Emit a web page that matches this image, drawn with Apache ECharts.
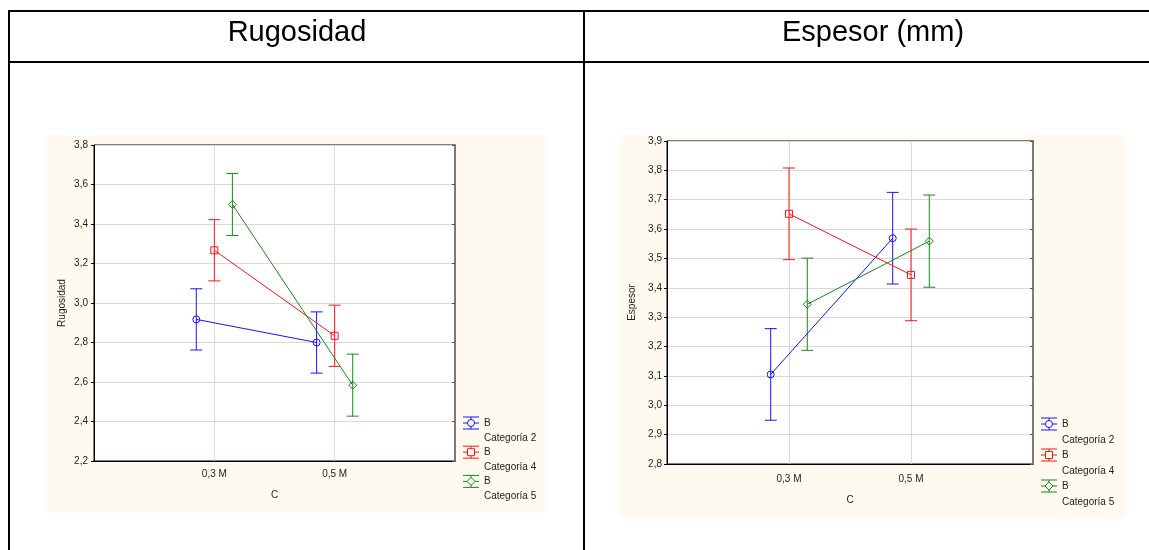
<!DOCTYPE html>
<html>
<head>
<meta charset="utf-8">
<title>Rugosidad y Espesor</title>
<script src="https://cdn.jsdelivr.net/npm/echarts@6/dist/echarts.min.js"></script>
<style>
  html, body { margin: 0; padding: 0; background: #ffffff; }
  #chart { width: 1149px; height: 550px; }
</style>
</head>
<body>
<div id="chart"></div>
<script>
// ---- data ----
const categories = ['0,3 M', '0,5 M'];
const groupNames = ['Categoría 2', 'Categoría 4', 'Categoría 5'];
const factorName = 'B';
const xAxisName = 'C';

const rugosidadTicks = [2.2, 2.4, 2.6, 2.8, 3.0, 3.2, 3.4, 3.6, 3.8];
const rugosidadCat2 = [2.917, 2.800];
const rugosidadCat4 = [3.267, 2.834];
const rugosidadCat5 = [3.499, 2.584];
const rugosidadHalfCI = [0.155, 0.155, 0.157];

const espesorTicks = [2.8, 2.9, 3.0, 3.1, 3.2, 3.3, 3.4, 3.5, 3.6, 3.7, 3.8, 3.9];
const espesorCat2 = [3.105, 3.569];
const espesorCat4 = [3.652, 3.444];
const espesorCat5 = [3.344, 3.559];
const espesorHalfCI = [0.156, 0.156, 0.157];

// ---- styling ----
const FONT = "'Liberation Sans', Arial, sans-serif";
const COLORS = ['#1414ff', '#ff1414', '#148c14'];
const SYMBOLS = ['circle', 'rect', 'diamond'];
const OFFSETS = [-0.15, 0, 0.15];
const CREAM = '#fefaef';

const panels = [
  {
    title: 'Rugosidad', titleX: 297,
    yName: 'Rugosidad',
    ticks: rugosidadTicks,
    groups: [rugosidadCat2, rugosidadCat4, rugosidadCat5],
    halfCI: rugosidadHalfCI,
    grid: { left: 94, top: 145, width: 361, height: 316 },
    panel: { x: 47, y: 135, w: 498, h: 378 },
    yNameGap: 27, xNameGap: 29, xLabelMargin: 8, yLabelMargin: 6,
    legend: { x: 463, y: 423, step: 29.2, line: 15 }
  },
  {
    title: 'Espesor (mm)', titleX: 873,
    yName: 'Espesor',
    ticks: espesorTicks,
    groups: [espesorCat2, espesorCat4, espesorCat5],
    halfCI: espesorHalfCI,
    grid: { left: 667, top: 141, width: 366, height: 323 },
    panel: { x: 620, y: 135, w: 506, h: 383 },
    yNameGap: 30, xNameGap: 31, xLabelMargin: 10, yLabelMargin: 5,
    legend: { x: 1041, y: 424, step: 31, line: 16 }
  }
];

const fmt = v => (Math.round(v * 10) / 10).toFixed(1).replace('.', ',');

const grids = [], xAxes = [], yAxes = [], series = [], graphics = [];

// table frame
const frame = [
  [9, 11, 1149, 11], [9, 62, 1149, 62],
  [9, 10, 9, 550], [584, 10, 584, 550]
];
frame.forEach(([x1, y1, x2, y2]) => graphics.push({
  type: 'line', z: 20, silent: true,
  shape: { x1, y1, x2, y2 },
  style: { stroke: '#000', lineWidth: 2 }
}));

function legendIcon(cx, cy, i) {
  const c = COLORS[i];
  const st = { stroke: c, lineWidth: 1, fill: null };
  const kids = [
    { type: 'line', shape: { x1: cx - 8, y1: cy - 6, x2: cx + 8, y2: cy - 6 }, style: st },
    { type: 'line', shape: { x1: cx - 8, y1: cy + 6, x2: cx + 8, y2: cy + 6 }, style: st },
    { type: 'line', shape: { x1: cx - 8, y1: cy, x2: cx + 8, y2: cy }, style: st },
    { type: 'line', shape: { x1: cx, y1: cy - 6, x2: cx, y2: cy + 6 }, style: st }
  ];
  const ms = { stroke: c, lineWidth: 1, fill: '#ffffff' };
  if (SYMBOLS[i] === 'circle') kids.push({ type: 'circle', shape: { cx, cy, r: 3.5 }, style: ms });
  else if (SYMBOLS[i] === 'rect') kids.push({ type: 'rect', shape: { x: cx - 3.5, y: cy - 3.5, width: 7, height: 7 }, style: ms });
  else kids.push({ type: 'polygon', shape: { points: [[cx, cy - 4], [cx + 4, cy], [cx, cy + 4], [cx - 4, cy]] }, style: ms });
  return { type: 'group', z: 15, silent: true, children: kids };
}

panels.forEach((p, gi) => {
  // cream panel behind each chart
  graphics.push({
    type: 'rect', z: -5, silent: true,
    shape: { x: p.panel.x, y: p.panel.y, width: p.panel.w, height: p.panel.h },
    style: { fill: CREAM }
  });
  // header text
  graphics.push({
    type: 'text', z: 20, silent: true,
    x: p.titleX, y: 33,
    style: { text: p.title, fill: '#000', font: `29px ${FONT}`, align: 'center', verticalAlign: 'middle' }
  });

  grids.push(Object.assign({
    show: true, backgroundColor: '#ffffff', borderColor: '#000', borderWidth: 1
  }, p.grid));

  const tMin = p.ticks[0], tMax = p.ticks[p.ticks.length - 1];
  const tStep = Math.round((p.ticks[1] - p.ticks[0]) * 1000) / 1000;

  xAxes.push({
    type: 'value', gridIndex: gi, min: 0, max: categories.length + 1, interval: 1,
    name: xAxisName, nameLocation: 'middle', nameGap: p.xNameGap,
    nameTextStyle: { fontFamily: FONT, fontSize: 10, color: '#222' },
    axisLine: { show: true, lineStyle: { color: '#000', width: 1 } },
    axisTick: { show: false },
    axisLabel: {
      margin: p.xLabelMargin, fontFamily: FONT, fontSize: 10, color: '#222',
      formatter: v => categories[Math.round(v) - 1] || ''
    },
    splitLine: { show: true, lineStyle: { color: '#d9d9d9', width: 1 } }
  });

  yAxes.push({
    type: 'value', gridIndex: gi, position: 'left',
    min: tMin, max: tMax, interval: tStep,
    name: p.yName, nameLocation: 'middle', nameGap: p.yNameGap, nameRotate: 90,
    nameTextStyle: { fontFamily: FONT, fontSize: 10, color: '#222' },
    axisLine: { show: true, lineStyle: { color: '#000', width: 1 } },
    axisTick: { show: true, length: 3, lineStyle: { color: '#000' } },
    axisLabel: { margin: p.yLabelMargin, fontFamily: FONT, fontSize: 10, color: '#222', formatter: fmt },
    splitLine: { show: true, lineStyle: { color: '#d9d9d9', width: 1 } }
  });
  yAxes.push({
    type: 'value', gridIndex: gi, position: 'right',
    min: tMin, max: tMax, interval: tStep,
    axisLine: { show: true, lineStyle: { color: '#7a7a7a', width: 2 } },
    axisTick: { show: true, inside: true, length: 3, lineStyle: { color: '#555' } },
    axisLabel: { show: false },
    splitLine: { show: false }
  });
  const yIdx = gi * 2;

  p.groups.forEach((vals, si) => {
    const color = COLORS[si];
    const pts = vals.map((v, ci) => [ci + 1 + OFFSETS[si], v]);
    const bars = vals.map((v, ci) => [ci + 1 + OFFSETS[si], v - p.halfCI[si], v + p.halfCI[si]]);

    series.push({
      type: 'custom', name: groupNames[si] + ' CI', xAxisIndex: gi, yAxisIndex: yIdx,
      data: bars, encode: { x: 0, y: [1, 2] }, z: 3, silent: true,
      renderItem: (params, api) => {
        const x = api.value(0);
        const hi = api.coord([x, api.value(2)]);
        const lo = api.coord([x, api.value(1)]);
        const st = { stroke: color, lineWidth: 1, fill: null };
        return {
          type: 'group', children: [
            { type: 'line', shape: { x1: hi[0], y1: hi[1], x2: lo[0], y2: lo[1] }, style: st },
            { type: 'line', shape: { x1: hi[0] - 6, y1: hi[1], x2: hi[0] + 6, y2: hi[1] }, style: st },
            { type: 'line', shape: { x1: lo[0] - 6, y1: lo[1], x2: lo[0] + 6, y2: lo[1] }, style: st }
          ]
        };
      }
    });
    series.push({
      type: 'line', name: groupNames[si], xAxisIndex: gi, yAxisIndex: yIdx,
      data: pts, z: 4, silent: true,
      symbol: SYMBOLS[si], symbolSize: SYMBOLS[si] === 'diamond' ? 8 : 7,
      lineStyle: { color, width: 1 },
      itemStyle: { color: 'rgba(255,255,255,0)', borderColor: color, borderWidth: 1 }
    });

    // legend entry
    const ly = p.legend.y + si * p.legend.step;
    graphics.push(legendIcon(p.legend.x + 8, ly, si));
    graphics.push({
      type: 'text', z: 15, silent: true, x: p.legend.x + 21, y: ly,
      style: { text: factorName, fill: '#222', font: `10px ${FONT}`, verticalAlign: 'middle' }
    });
    graphics.push({
      type: 'text', z: 15, silent: true, x: p.legend.x + 21, y: ly + p.legend.line,
      style: { text: groupNames[si], fill: '#222', font: `10px ${FONT}`, verticalAlign: 'middle' }
    });
  });
});

const chart = echarts.init(document.getElementById('chart'), null, { renderer: 'canvas' });
chart.setOption({
  animation: false,
  backgroundColor: '#ffffff',
  textStyle: { fontFamily: FONT },
  grid: grids,
  xAxis: xAxes,
  yAxis: yAxes,
  series: series,
  graphic: { elements: graphics }
});
</script>
</body>
</html>
